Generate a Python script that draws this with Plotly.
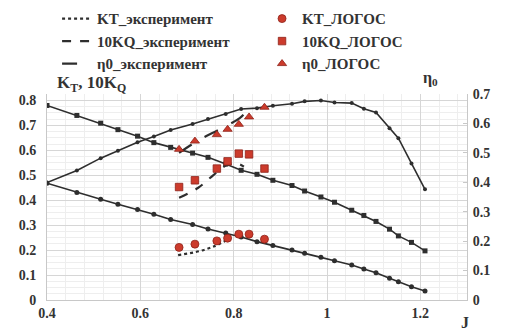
import plotly.graph_objects as go

# ---- data ----
J_calc = [0.400, 0.464, 0.515, 0.552, 0.594, 0.629, 0.665, 0.712, 0.745, 0.783, 0.816, 0.850,
          0.884, 0.925, 0.952, 0.987, 1.016, 1.053, 1.079, 1.105, 1.134, 1.153, 1.181, 1.210]
KT_calc = [0.468, 0.431, 0.404, 0.384, 0.363, 0.344, 0.323, 0.303, 0.285, 0.269, 0.253, 0.234,
           0.219, 0.200, 0.187, 0.171, 0.157, 0.140, 0.124, 0.109, 0.087, 0.073, 0.053, 0.036]
KQ10_calc = [0.780, 0.740, 0.709, 0.683, 0.657, 0.631, 0.612, 0.589, 0.572, 0.545, 0.520, 0.504,
             0.480, 0.459, 0.437, 0.413, 0.392, 0.360, 0.339, 0.315, 0.284, 0.257, 0.231, 0.197]
ETA_calc = [0.399, 0.440, 0.482, 0.507, 0.536, 0.556, 0.578, 0.598, 0.615, 0.632, 0.649, 0.652,
            0.660, 0.667, 0.675, 0.678, 0.671, 0.669, 0.650, 0.637, 0.584, 0.550, 0.464, 0.376]

J_kt_exp = [0.681, 0.727, 0.759, 0.785]
KT_exp = [0.180, 0.196, 0.216, 0.240]
J_kq_exp = [0.683, 0.724, 0.756, 0.784, 0.806, 0.822]
KQ10_exp = [0.410, 0.450, 0.500, 0.540, 0.548, 0.535]
J_eta_exp = [0.683, 0.727, 0.770, 0.813, 0.827]
ETA_exp = [0.500, 0.545, 0.580, 0.618, 0.640]

J_logos = [0.683, 0.717, 0.764, 0.787, 0.811, 0.833, 0.866]
KT_logos = [0.211, 0.224, 0.237, 0.248, 0.264, 0.264, 0.244]
KQ10_logos = [0.453, 0.480, 0.527, 0.556, 0.587, 0.584, 0.527]
ETA_logos = [0.512, 0.540, 0.562, 0.580, 0.597, 0.622, 0.655]

x_ticks = [0.4, 0.6, 0.8, 1.0, 1.2]
x_tick_text = ["0.4", "0.6", "0.8", "1", "1.2"]
yl_ticks = [0, 0.1, 0.2, 0.3, 0.4, 0.5, 0.6, 0.7, 0.8]
yl_tick_text = ["0", "0.1", "0.2", "0.3", "0.4", "0.5", "0.6", "0.7", "0.8"]
yr_ticks = [0, 0.1, 0.2, 0.3, 0.4, 0.5, 0.6, 0.7]
yr_tick_text = ["0", "0.1", "0.2", "0.3", "0.4", "0.5", "0.6", "0.7"]

FONT = "Liberation Serif"
TXT = "#333333"
LINE = "#2e2e2e"
RED = "#cc3b2c"
RED_EDGE = "#8e2219"

fig = go.Figure()

# calculated curves (black)
fig.add_trace(go.Scatter(x=J_calc, y=KT_calc, mode="lines+markers", showlegend=False,
                         line=dict(color=LINE, width=1.6),
                         marker=dict(symbol="circle", size=5, color=LINE)))
fig.add_trace(go.Scatter(x=J_calc, y=KQ10_calc, mode="lines+markers", showlegend=False,
                         line=dict(color=LINE, width=1.6),
                         marker=dict(symbol="square", size=5, color=LINE)))
fig.add_trace(go.Scatter(x=J_calc, y=ETA_calc, mode="lines+markers", showlegend=False, yaxis="y2",
                         line=dict(color=LINE, width=1.6),
                         marker=dict(symbol="circle", size=4, color=LINE)))

# experiments
fig.add_trace(go.Scatter(x=J_kt_exp, y=KT_exp, mode="lines", name="KT_эксперимент",
                         legend="legend", line=dict(color=LINE, width=2.2, dash="dot", shape="spline")))
fig.add_trace(go.Scatter(x=J_kq_exp, y=KQ10_exp, mode="lines", name="10KQ_эксперимент",
                         legend="legend", line=dict(color=LINE, width=2.2, dash="dash", shape="spline")))
fig.add_trace(go.Scatter(x=J_eta_exp, y=ETA_exp, mode="lines", name="η0_эксперимент", yaxis="y2",
                         legend="legend", line=dict(color=LINE, width=2.2, dash="longdash", shape="spline")))

# LOGOS
fig.add_trace(go.Scatter(x=J_logos, y=KT_logos, mode="markers", name="KT_ЛОГОС", legend="legend2",
                         marker=dict(symbol="circle", size=8, color=RED, line=dict(color=RED_EDGE, width=0.8))))
fig.add_trace(go.Scatter(x=J_logos, y=KQ10_logos, mode="markers", name="10KQ_ЛОГОС", legend="legend2",
                         marker=dict(symbol="square", size=7.5, color=RED, line=dict(color=RED_EDGE, width=0.8))))
fig.add_trace(go.Scatter(x=J_logos, y=ETA_logos, mode="markers", name="η0_ЛОГОС", yaxis="y2",
                         legend="legend2",
                         marker=dict(symbol="triangle-up", size=8, color=RED, line=dict(color=RED_EDGE, width=0.8))))

tickfont = dict(family=FONT, size=14, color=TXT, weight="bold")
legfont = dict(family=FONT, size=15, color=TXT, weight="bold")

fig.update_layout(
    width=497, height=324,
    margin=dict(l=39, r=38, t=86, b=32, autoexpand=False),
    paper_bgcolor="white", plot_bgcolor="white",
    xaxis=dict(range=[0.4, 1.3], tickvals=x_ticks, ticktext=x_tick_text, tickfont=tickfont,
               showgrid=True, gridcolor="#d6d6d6", gridwidth=1,
               minor=dict(dtick=0.04, tick0=0.4, showgrid=True, gridcolor="#eeeeee", gridwidth=1),
               showline=True, linecolor="#c8c8c8", linewidth=1, zeroline=False,
               ticks="", ticklabelstandoff=0),
    yaxis=dict(range=[0, 0.826], tickvals=yl_ticks, ticktext=yl_tick_text, tickfont=tickfont,
               showgrid=True, gridcolor="#d6d6d6", gridwidth=1,
               minor=dict(dtick=0.025, tick0=0, showgrid=True, gridcolor="#eeeeee", gridwidth=1),
               showline=True, linecolor="#c8c8c8", linewidth=1, zeroline=False,
               ticks="", ticklabelstandoff=7),
    yaxis2=dict(range=[0, 0.7], tickvals=yr_ticks, ticktext=yr_tick_text, tickfont=tickfont,
                overlaying="y", side="right", showgrid=False, zeroline=False,
                showline=True, linecolor="#c8c8c8", linewidth=1,
                ticks="inside", ticklen=4, tickcolor="#c8c8c8", ticklabelstandoff=2),
    legend=dict(x=0.024, y=1.445, xanchor="left", yanchor="top", orientation="v",
                font=legfont, itemwidth=30, bgcolor="rgba(0,0,0,0)", tracegroupgap=0),
    legend2=dict(x=0.512, y=1.445, xanchor="left", yanchor="top", orientation="v",
                 font=legfont, itemwidth=30, bgcolor="rgba(0,0,0,0)", tracegroupgap=0),
    annotations=[
        dict(text="K<sub>T</sub>, 10K<sub>Q</sub>", xref="paper", yref="paper",
             x=0.02, y=0.985, xanchor="left", yanchor="bottom", showarrow=False,
             font=dict(family=FONT, size=17, color=TXT, weight="bold")),
        dict(text="η<sub>0</sub>", xref="paper", yref="paper",
             x=0.936, y=1.02, xanchor="right", yanchor="bottom", showarrow=False,
             font=dict(family=FONT, size=16, color=TXT, weight="bold")),
        dict(text="J", xref="paper", yref="paper",
             x=0.995, y=-0.06, xanchor="center", yanchor="top", showarrow=False,
             font=dict(family=FONT, size=16, color=TXT, weight="bold")),
    ],
)

fig.write_html("out.html")
